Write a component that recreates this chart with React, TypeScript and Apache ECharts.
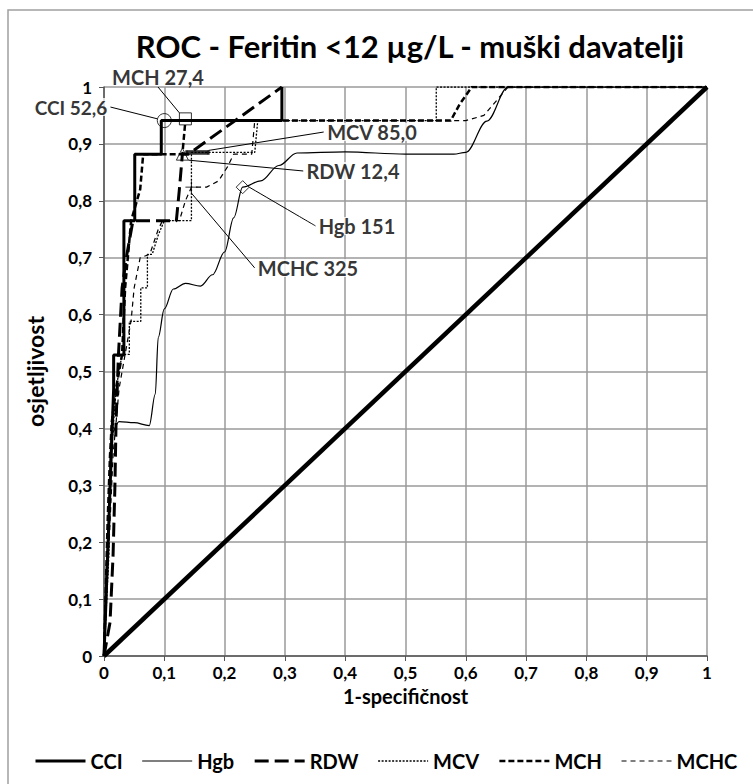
import React, { useEffect, useRef } from 'react';
import * as echarts from 'echarts';

const TITLE = 'ROC - Feritin <12 µg/L - muški davatelji';
const X_NAME = '1-specifičnost';
const Y_NAME = 'osjetljivost';
const LEGEND_NAMES = ['CCI', 'Hgb', 'RDW', 'MCV', 'MCH', 'MCHC'];

const cci: number[][] = [
  [0, 0], [0.004, 0.118], [0.008, 0.235], [0.012, 0.353], [0.016, 0.47], [0.016, 0.529],
  [0.033, 0.529], [0.033, 0.765], [0.051, 0.765], [0.051, 0.882], [0.095, 0.882],
  [0.095, 0.941], [0.295, 0.941], [0.295, 1.0],
];
const hgb: number[][] = [
  [0, 0], [0.006, 0.2], [0.012, 0.39], [0.025, 0.412], [0.05, 0.41], [0.075, 0.405],
  [0.085, 0.46], [0.09, 0.56], [0.1, 0.61], [0.115, 0.645], [0.135, 0.655], [0.16, 0.65],
  [0.18, 0.67], [0.2, 0.71], [0.215, 0.77], [0.23, 0.824], [0.26, 0.835], [0.29, 0.862],
  [0.32, 0.884], [0.4, 0.886], [0.5, 0.882], [0.58, 0.882], [0.6, 0.885], [0.635, 0.94],
  [0.67, 1.0], [1, 1],
];
const rdw: number[][] = [
  [0, 0], [0.01, 0.059], [0.015, 0.176], [0.018, 0.294], [0.02, 0.412], [0.024, 0.53],
  [0.03, 0.647], [0.038, 0.706], [0.048, 0.765], [0.12, 0.765], [0.125, 0.82],
  [0.13, 0.882], [0.14, 0.882], [0.295, 1.0],
];
const mcv: number[][] = [
  [0, 0], [0.008, 0.176], [0.012, 0.353], [0.02, 0.47], [0.03, 0.53], [0.042, 0.53],
  [0.042, 0.588], [0.061, 0.588], [0.061, 0.647], [0.072, 0.647], [0.072, 0.706],
  [0.08, 0.706], [0.09, 0.74], [0.1, 0.765], [0.145, 0.765], [0.145, 0.885], [0.25, 0.885],
  [0.255, 0.941], [0.551, 0.941], [0.551, 1.0], [1, 1],
];
const mch: number[][] = [
  [0, 0], [0.003, 0.118], [0.006, 0.235], [0.01, 0.353], [0.013, 0.412], [0.02, 0.47],
  [0.03, 0.53], [0.035, 0.647], [0.04, 0.706], [0.045, 0.765], [0.06, 0.82], [0.065, 0.882],
  [0.13, 0.882], [0.135, 0.941], [0.575, 0.941], [0.59, 0.97], [0.61, 1.0], [1, 1],
];
const mchc: number[][] = [
  [0, 0], [0.005, 0.118], [0.01, 0.235], [0.015, 0.353], [0.02, 0.41], [0.025, 0.47],
  [0.035, 0.53], [0.045, 0.59], [0.05, 0.647], [0.06, 0.7], [0.076, 0.706], [0.09, 0.75],
  [0.097, 0.765], [0.125, 0.765], [0.135, 0.8], [0.145, 0.824], [0.17, 0.824], [0.19, 0.835],
  [0.205, 0.86], [0.215, 0.882], [0.245, 0.882], [0.25, 0.941], [0.6, 0.941], [0.63, 0.95],
  [0.67, 1.0], [1, 1],
];
const reference: number[][] = [[0, 0], [1, 1]];

const CUT_LABELS = ['CCI 52,6', 'MCH 27,4', 'MCV 85,0', 'RDW 12,4', 'Hgb 151', 'MCHC 325'];
const CUT_POINTS: number[][] = [
  [0.1, 0.941], [0.135, 0.944], [0.155, 0.885], [0.13, 0.882], [0.23, 0.824], [0.145, 0.824],
];

const FONT = 'Lato, "DejaVu Sans", sans-serif';

export default function App() {
  const ref = useRef<HTMLDivElement>(null);
  useEffect(() => {
    if (!ref.current) return;
    const chart = echarts.init(ref.current, undefined, { renderer: 'svg' });
    const fmt = (v: number) => (v === 0 ? '0' : v === 1 ? '1' : v.toFixed(1).replace('.', ','));

    const styles: Record<string, { width: number; type: any }> = {
      CCI: { width: 3, type: 'solid' },
      Hgb: { width: 1.2, type: 'solid' },
      RDW: { width: 3, type: [14, 6] },
      MCV: { width: 1.3, type: [2, 1.5] },
      MCH: { width: 2.5, type: [6, 3] },
      MCHC: { width: 1.2, type: [5, 4] },
    };

    const lineSeries = (name: string, data: number[][], width: number, type: any, smooth: any = false) => ({
      name,
      type: 'line',
      data,
      symbol: 'none',
      showSymbol: false,
      smooth,
      smoothMonotone: smooth ? 'x' : undefined,
      lineStyle: { color: '#000', width, type },
      itemStyle: { color: '#000' },
      z: 3,
    });

    const markerDefs = [
      { symbol: 'circle', size: 14, fill: 'transparent', pos: { x: 71, y: 107 }, fs: 19, smooth: false },
      { symbol: 'rect', size: 12, fill: 'transparent', pos: { x: 158, y: 77 }, fs: 20, smooth: false },
      { symbol: 'rect', size: [22, 4], fill: '#000', pos: { x: 372, y: 132 }, fs: 20, smooth: false },
      { symbol: 'triangle', size: 12, fill: 'transparent', pos: { x: 353, y: 171 }, fs: 20, smooth: 0.4 },
      { symbol: 'diamond', size: 13, fill: 'transparent', pos: { x: 357, y: 226 }, fs: 20, smooth: 0.4 },
      { symbol: 'path://M5 0 L5 10 M0 5 L10 5', size: 12, fill: 'transparent', pos: { x: 308, y: 268 }, fs: 20, smooth: false },
    ];

    const markerSeries = CUT_LABELS.map((lab, i) => {
      const d = markerDefs[i];
      return {
        name: lab,
        type: 'scatter',
        data: [CUT_POINTS[i]],
        symbol: d.symbol,
        symbolSize: d.size,
        itemStyle: { color: d.fill, borderColor: '#000', borderWidth: 1 },
        z: 6,
        label: {
          show: true,
          formatter: lab,
          color: '#000',
          fontFamily: FONT,
          fontWeight: 'bold',
          fontSize: d.fs,
          lineHeight: 18,
          backgroundColor: '#fff',
          padding: [0, 3],
        },
        labelLayout: { x: d.pos.x, y: d.pos.y, align: 'center', verticalAlign: 'middle', hideOverlap: false },
        labelLine: { show: true, smooth: d.smooth, lineStyle: { color: '#000', width: 1 } },
        emphasis: { disabled: true },
      };
    });

    chart.setOption({
      animation: false,
      backgroundColor: '#fff',
      grid: { left: 104, right: 46, top: 87, bottom: 128 },
      graphic: [
        { type: 'rect', shape: { x: 8, y: 10, width: 800, height: 800 }, style: { fill: 'none', stroke: '#a0a0a0', lineWidth: 1.5 }, z: -10 },
        { type: 'text', x: 410, y: 46, style: { text: TITLE, font: `bold 31px ${FONT}`, fill: '#000', textAlign: 'center', textVerticalAlign: 'middle' } },
      ],
      xAxis: {
        type: 'value', min: 0, max: 1, interval: 0.1,
        name: X_NAME, nameLocation: 'middle', nameGap: 23,
        nameTextStyle: { fontFamily: FONT, fontWeight: 'bold', fontSize: 20, color: '#000' },
        axisLine: { show: true, lineStyle: { color: '#555', width: 1.5 } },
        axisTick: { show: true, length: 5, lineStyle: { color: '#555' } },
        axisLabel: { formatter: fmt, fontFamily: FONT, fontWeight: 'bold', fontSize: 17, color: '#000', margin: 8 },
        splitLine: { show: true, lineStyle: { color: '#9a9a9a', width: 1.5 } },
      },
      yAxis: {
        type: 'value', min: 0, max: 1, interval: 0.1,
        name: Y_NAME, nameLocation: 'middle', nameGap: 58,
        nameTextStyle: { fontFamily: FONT, fontWeight: 'bold', fontSize: 23, color: '#000' },
        axisLine: { show: true, lineStyle: { color: '#555', width: 1.5 } },
        axisTick: { show: true, length: 5, lineStyle: { color: '#555' } },
        axisLabel: { formatter: fmt, fontFamily: FONT, fontWeight: 'bold', fontSize: 17, lineHeight: 14, color: '#000', margin: 12 },
        splitLine: { show: true, lineStyle: { color: '#9a9a9a', width: 1.5 } },
      },
      legend: {
        data: LEGEND_NAMES.map((n) => ({ name: n, lineStyle: { color: '#000', width: styles[n].width, type: styles[n].type } })),
        left: 29, top: 746, width: 900,
        itemWidth: 50, itemHeight: 14, itemGap: 19,
        itemStyle: { opacity: 0 },
        textStyle: { fontFamily: FONT, fontWeight: 'bold', fontSize: 20, color: '#000' },
        selectedMode: false,
      },
      series: [
        lineSeries('diag', reference, 4.5, 'solid'),
        lineSeries('Hgb', hgb, styles.Hgb.width, styles.Hgb.type, 0.35),
        lineSeries('MCHC', mchc, styles.MCHC.width, styles.MCHC.type),
        lineSeries('MCV', mcv, styles.MCV.width, styles.MCV.type),
        lineSeries('RDW', rdw, styles.RDW.width, styles.RDW.type),
        lineSeries('MCH', mch, styles.MCH.width, styles.MCH.type),
        lineSeries('CCI', cci, styles.CCI.width, styles.CCI.type),
        ...markerSeries,
      ],
    });
    return () => chart.dispose();
  }, []);
  return <div ref={ref} style={{ position: 'absolute', left: 0, top: 0, width: 753, height: 784 }} />;
}
